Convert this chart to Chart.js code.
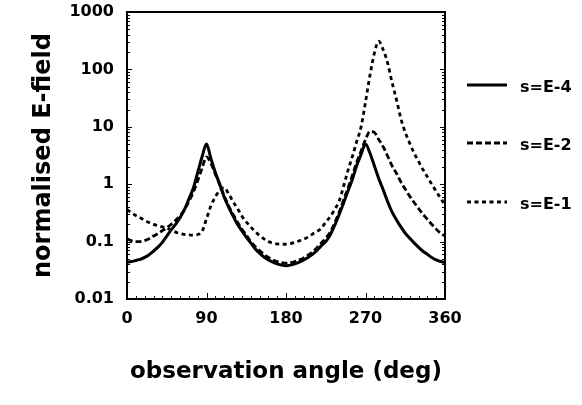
<!DOCTYPE html>
<html>
<head>
<meta charset="utf-8">
<script src="https://cdn.jsdelivr.net/npm/chart.js@4.4.1/dist/chart.umd.min.js"></script>
<style>
    body { margin: 0; background: #fff; }
    #wrap { width: 582px; height: 405px; position: relative; }
</style>
</head>
<body>
<div id="wrap"><canvas id="chartCanvas"></canvas></div>
<script>
// observation angle (deg), 5 degree steps
const angles = [
    0, 5, 10, 15, 20, 25, 30, 35, 40, 45,
    50, 55, 60, 65, 70, 75, 80, 85, 90, 95,
    100, 105, 110, 115, 120, 125, 130, 135, 140, 145,
    150, 155, 160, 165, 170, 175, 180, 185, 190, 195,
    200, 205, 210, 215, 220, 225, 230, 235, 240, 245,
    250, 255, 260, 265, 270, 275, 280, 285, 290, 295,
    300, 305, 310, 315, 320, 325, 330, 335, 340, 345,
    350, 355, 360
];

// s=E-4 (solid)
const fieldE4 = [
    0.044, 0.045, 0.047, 0.049, 0.053, 0.059, 0.068, 0.08, 0.097, 0.125,
    0.16, 0.2, 0.26, 0.36, 0.55, 0.85, 1.6, 3.0, 5.0, 2.8,
    1.6, 1.0, 0.6, 0.4, 0.28, 0.2, 0.155, 0.12, 0.095, 0.075,
    0.063, 0.054, 0.048, 0.044, 0.041, 0.039, 0.038, 0.039, 0.041, 0.044,
    0.048, 0.053, 0.06, 0.07, 0.085, 0.1, 0.13, 0.19, 0.29, 0.46,
    0.75, 1.2, 2.1, 3.3, 5.0, 3.5, 2.1, 1.25, 0.8, 0.5,
    0.33, 0.24, 0.18, 0.14, 0.115, 0.095, 0.08, 0.068, 0.06, 0.053,
    0.048, 0.045, 0.043
];

// s=E-2 (long dashes)
const fieldE2 = [
    0.112, 0.104, 0.1, 0.1, 0.104, 0.112, 0.125, 0.138, 0.155, 0.175,
    0.2, 0.235, 0.28, 0.36, 0.5, 0.72, 1.15, 1.9, 3.0, 2.3,
    1.5, 0.98, 0.63, 0.42, 0.3, 0.22, 0.165, 0.13, 0.1, 0.082,
    0.07, 0.06, 0.053, 0.048, 0.045, 0.043, 0.042, 0.043, 0.045, 0.048,
    0.052, 0.058, 0.066, 0.078, 0.095, 0.115, 0.145, 0.21, 0.32, 0.52,
    0.85, 1.4, 2.4, 3.8, 6.0, 8.3, 8.0, 6.0, 4.5, 3.1,
    2.1, 1.55, 1.1, 0.82, 0.62, 0.48, 0.38, 0.3, 0.245, 0.2,
    0.165, 0.14, 0.125
];

// s=E-1 (short dashes)
const fieldE1 = [
    0.36, 0.32, 0.285, 0.26, 0.235, 0.215, 0.2, 0.19, 0.18, 0.172,
    0.158, 0.146, 0.138, 0.133, 0.131, 0.13, 0.133, 0.15, 0.25, 0.42,
    0.6, 0.78, 0.87, 0.68, 0.5, 0.38, 0.28, 0.22, 0.18, 0.15,
    0.128, 0.112, 0.1, 0.094, 0.091, 0.09, 0.09, 0.092, 0.097, 0.103,
    0.11, 0.12, 0.135, 0.15, 0.17, 0.22, 0.27, 0.36, 0.5, 0.9,
    1.7, 3.0, 5.5, 10, 27, 78, 190, 310, 220, 130,
    60, 30, 14, 8, 5.2, 3.5, 2.5, 1.8, 1.35, 1.0,
    0.75, 0.57, 0.43
];

const seriesLabels = ['s=E-4', 's=E-2', 's=E-1'];
const seriesDash = [[], [6, 3], [4, 3.5]];
const yTicks = [0.01, 0.1, 1, 10, 100, 1000];
const yTickLabels = ['0.01', '0.1', '1', '10', '100', '1000'];
const xTicks = [0, 90, 180, 270, 360];

const FONT = 'DejaVu Sans';
Chart.defaults.font.family = FONT;
Chart.defaults.color = '#000';

function toPoints(values) {
    return angles.map((a, i) => ({ x: a, y: values[i] }));
}

// frame, inward minor ticks and the side legend
const decorPlugin = {
    id: 'decor',
    afterDraw(chart) {
        const ctx = chart.ctx;
        const area = chart.chartArea;
        const xs = chart.scales.x;
        const ys = chart.scales.y;
        ctx.save();
        ctx.strokeStyle = '#000';
        ctx.lineWidth = 2;
        ctx.strokeRect(area.left, area.top, area.right - area.left, area.bottom - area.top);

        ctx.lineWidth = 1;
        ctx.beginPath();
        for (let d = -2; d < 3; d++) {
            for (let k = 1; k < 10; k++) {
                const y = Math.round(ys.getPixelForValue(k * Math.pow(10, d))) + 0.5;
                const len = k === 1 ? 5 : 3;
                ctx.moveTo(area.left, y); ctx.lineTo(area.left + len, y);
                ctx.moveTo(area.right, y); ctx.lineTo(area.right - len, y);
            }
        }
        for (let a = 0; a <= 360; a += 10) {
            const x = Math.round(xs.getPixelForValue(a)) + 0.5;
            const len = a % 90 === 0 ? 6 : 3;
            ctx.moveTo(x, area.bottom); ctx.lineTo(x, area.bottom - len);
        }
        ctx.stroke();

        const legendY = [85, 143, 202];
        ctx.font = 'bold 16px "' + FONT + '"';
        ctx.textBaseline = 'middle';
        ctx.fillStyle = '#000';
        seriesLabels.forEach((label, i) => {
            ctx.beginPath();
            ctx.lineWidth = 2.8;
            ctx.setLineDash(seriesDash[i]);
            ctx.moveTo(467, legendY[i]);
            ctx.lineTo(507, legendY[i]);
            ctx.stroke();
            ctx.setLineDash([]);
            ctx.fillText(label, 520, legendY[i] + 3);
        });
        ctx.restore();
    }
};

const datasets = [fieldE4, fieldE2, fieldE1].map((vals, i) => ({
    label: seriesLabels[i],
    data: toPoints(vals),
    borderColor: '#000',
    borderWidth: i === 0 ? 3 : 2.8,
    borderDash: seriesDash[i],
    pointRadius: 0,
    fill: false,
    cubicInterpolationMode: 'monotone'
}));

const chart = new Chart(document.getElementById('chartCanvas'), {
    type: 'line',
    data: { datasets: datasets },
    options: {
        responsive: true,
        maintainAspectRatio: false,
        animation: false,
        layout: { padding: { left: 0, right: 137, top: 12, bottom: 0 } },
        plugins: {
            legend: { display: false },
            tooltip: { enabled: false }
        },
        scales: {
            x: {
                type: 'linear',
                min: 0,
                max: 360,
                afterBuildTicks: scale => { scale.ticks = xTicks.map(v => ({ value: v })); },
                afterFit: scale => { scale.height = 106; },
                grid: { display: false, drawTicks: false },
                border: { display: false },
                ticks: {
                    padding: 10,
                    maxRotation: 0,
                    font: { size: 16, weight: 'bold' },
                    callback: v => String(v)
                },
                title: {
                    display: true,
                    text: 'observation angle (deg)',
                    font: { size: 23, weight: 'bold' },
                    padding: { top: 0, bottom: 19 }
                }
            },
            y: {
                type: 'logarithmic',
                min: 0.01,
                max: 1000,
                afterBuildTicks: scale => { scale.ticks = yTicks.map(v => ({ value: v })); },
                afterFit: scale => {
                    scale.width = 127;
                    scale.paddingTop = 0;
                    scale.paddingBottom = 0;
                },
                grid: { display: false, drawTicks: false },
                border: { display: false },
                ticks: {
                    padding: 13,
                    font: { size: 16, weight: 'bold' },
                    callback: v => yTickLabels[yTicks.indexOf(v)] || ''
                },
                title: {
                    display: true,
                    text: 'normalised E-field',
                    font: { size: 24, weight: 'bold' },
                    padding: { top: 29, bottom: 0 }
                }
            }
        }
    },
    plugins: [decorPlugin]
});
</script>
</body>
</html>
